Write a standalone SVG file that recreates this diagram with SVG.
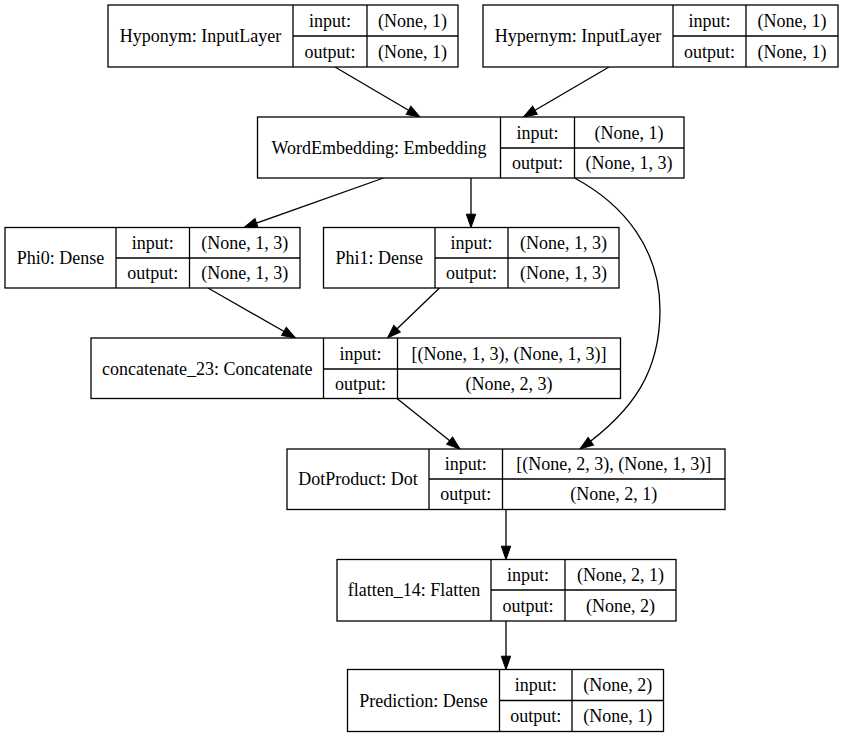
<svg xmlns="http://www.w3.org/2000/svg" width="844" height="737" viewBox="0 0 844 737">
<style>
.bg{fill:#ffffff}
.box{fill:#ffffff;stroke:#000000;stroke-width:1.3}
.ln{fill:none;stroke:#000000;stroke-width:1.3}
text{font-family:'Liberation Serif',serif;font-size:18px;text-anchor:middle;fill:#000000}
.e{fill:none;stroke:#000000;stroke-width:1.3;marker-end:url(#arr)}
</style>
<defs>
<marker id="arr" markerUnits="userSpaceOnUse" markerWidth="14" markerHeight="10" refX="13.3" refY="4.7" orient="auto" overflow="visible">
<path d="M0,0 L13.3,4.7 L0,9.4 Z" fill="#000000" stroke="#000000" stroke-width="1"/>
</marker>
</defs>
<rect class="bg" x="0" y="0" width="844" height="737"/>

<g id="connectors">
<path class="e" d="M335,67 L420,117"/>
<path class="e" d="M609,67 L523.5,117"/>
<path class="e" d="M383.5,178 L244,227.5"/>
<path class="e" d="M471,178 L471,227.5"/>
<path class="e" d="M574.5,178 C625,205 660,250 660,310 C660,370 635,410 580,449"/>
<path class="e" d="M208,288 L295.5,338"/>
<path class="e" d="M439.5,288 L387.5,338"/>
<path class="e" d="M397,398.5 L460,449"/>
<path class="e" d="M506,509.5 L506,559.5"/>
<path class="e" d="M506,621 L506,669.5"/>
</g>

<g font-family="Liberation Serif, serif">
<g id="hyponym">
<rect class="box" x="108" y="5" width="350" height="62"/>
<path class="ln" d="M293,5 V67 M367,5 V67 M293,36 H458"/>
<text x="200.5" y="42">Hyponym: InputLayer</text>
<text x="330" y="26.5">input:</text>
<text x="330" y="57.5">output:</text>
<text x="412.5" y="26.5">(None, 1)</text>
<text x="412.5" y="57.5">(None, 1)</text>
</g>

<g id="hypernym">
<rect class="box" x="483" y="5" width="355" height="62"/>
<path class="ln" d="M673,5 V67 M746,5 V67 M673,36 H838"/>
<text x="578" y="42">Hypernym: InputLayer</text>
<text x="709.5" y="26.5">input:</text>
<text x="709.5" y="57.5">output:</text>
<text x="792" y="26.5">(None, 1)</text>
<text x="792" y="57.5">(None, 1)</text>
</g>

<g id="wordembedding">
<rect class="box" x="257.5" y="117" width="426.5" height="61"/>
<path class="ln" d="M500.5,117 V178 M574.5,117 V178 M500.5,148 H684"/>
<text x="379" y="154">WordEmbedding: Embedding</text>
<text x="537.5" y="138.5">input:</text>
<text x="537.5" y="169">output:</text>
<text x="629" y="138.5">(None, 1)</text>
<text x="629" y="169">(None, 1, 3)</text>
</g>

<g id="phi0">
<rect class="box" x="5" y="227.5" width="295" height="60.5"/>
<path class="ln" d="M116,227.5 V288 M189.5,227.5 V288 M116,258 H300"/>
<text x="60.5" y="264">Phi0: Dense</text>
<text x="152.75" y="248.75">input:</text>
<text x="152.75" y="279">output:</text>
<text x="244.75" y="248.75">(None, 1, 3)</text>
<text x="244.75" y="279">(None, 1, 3)</text>
</g>

<g id="phi1">
<rect class="box" x="323.5" y="227.5" width="295.5" height="60.5"/>
<path class="ln" d="M435,227.5 V288 M508,227.5 V288 M435,258 H619"/>
<text x="379.25" y="264">Phi1: Dense</text>
<text x="471.5" y="248.75">input:</text>
<text x="471.5" y="279">output:</text>
<text x="563.5" y="248.75">(None, 1, 3)</text>
<text x="563.5" y="279">(None, 1, 3)</text>
</g>

<g id="concatenate_23">
<rect class="box" x="91" y="338" width="529.5" height="60.5"/>
<path class="ln" d="M323.5,338 V398.5 M397.5,338 V398.5 M323.5,369 H620.5"/>
<text x="207.25" y="375">concatenate_23: Concatenate</text>
<text x="360.5" y="359.5">input:</text>
<text x="360.5" y="389.75">output:</text>
<text x="509" y="359.5">[(None, 1, 3), (None, 1, 3)]</text>
<text x="509" y="389.75">(None, 2, 3)</text>
</g>

<g id="dotproduct">
<rect class="box" x="287" y="449" width="438" height="60.5"/>
<path class="ln" d="M429,449 V509.5 M502.5,449 V509.5 M429,479 H725"/>
<text x="358" y="485">DotProduct: Dot</text>
<text x="465.75" y="470">input:</text>
<text x="465.75" y="500.25">output:</text>
<text x="613.75" y="470">[(None, 2, 3), (None, 1, 3)]</text>
<text x="613.75" y="500.25">(None, 2, 1)</text>
</g>

<g id="flatten_14">
<rect class="box" x="337" y="559.5" width="339" height="61.5"/>
<path class="ln" d="M491,559.5 V621 M565,559.5 V621 M491,590 H676"/>
<text x="414" y="596">flatten_14: Flatten</text>
<text x="528" y="580.75">input:</text>
<text x="528" y="611.5">output:</text>
<text x="620.5" y="580.75">(None, 2, 1)</text>
<text x="620.5" y="611.5">(None, 2)</text>
</g>

<g id="prediction">
<rect class="box" x="347.5" y="669.5" width="316" height="62"/>
<path class="ln" d="M499.5,669.5 V731.5 M572,669.5 V731.5 M499.5,700.5 H663.5"/>
<text x="423.5" y="706.5">Prediction: Dense</text>
<text x="535.75" y="691">input:</text>
<text x="535.75" y="722">output:</text>
<text x="617.75" y="691">(None, 2)</text>
<text x="617.75" y="722">(None, 1)</text>
</g>
</g>
</svg>
